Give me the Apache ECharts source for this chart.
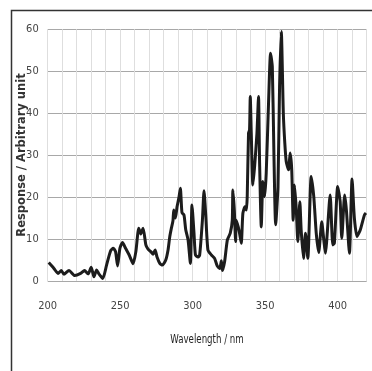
<!DOCTYPE html>
<html><head><meta charset="utf-8">
<script src="https://cdn.jsdelivr.net/npm/echarts@6/dist/echarts.min.js"></script>
<style>html,body{margin:0;padding:0;background:#fff}#c{width:372px;height:371px}</style>
</head><body><div id="c"></div>
<script>
var wavelengths = [200.7,204.3,207.1,209.4,211.2,214.7,218.6,222.7,225.4,227.9,230,231.9,233.7,235.3,238,240.6,243.4,245.2,246.8,248.2,249.8,251.6,253.7,256.2,258.9,260.8,262.8,264.2,265.8,267.7,269.2,271.1,272.7,274.1,275.4,277.3,279.1,281.4,283,284.2,285.3,286.4,286.9,288.1,289.2,290.6,291.5,292.6,294,295.2,296.8,298.4,299.5,300.9,301.9,303.7,304.8,306.7,307.8,309,310.5,312.9,315.1,316.9,318.6,319.8,320.4,322,323.9,325.9,327.3,327.7,328.7,329.6,330,331.4,332.3,333.5,334.6,336,337,337.6,338.5,339.2,339.7,340.4,341.5,342.7,344.3,345.4,346.1,347.3,348.4,349.6,350.7,352.3,353.7,354.9,356,357.2,358.8,359.9,361.1,362.5,363.5,364.5,366.1,367.2,368.3,369.3,370.2,371.4,372.5,373.9,374.8,376.4,377.8,379.4,381.7,383.5,385.2,386.9,389,390.4,391.5,394.8,396.6,397.7,400,401.7,402.8,404.8,406,408.1,409.9,411.5,413.3,415.6,418.4,419.5];
var response = [4.4,3.0,1.8,2.5,1.6,2.5,1.3,1.8,2.5,1.7,3.3,1.0,2.6,1.7,0.6,3.8,7.2,7.8,7.0,3.6,7.8,9.2,7.8,6.2,4.1,7.0,12.6,11.2,12.6,8.6,7.6,7.0,6.4,7.4,5.7,4.2,3.8,5.0,7.4,10.6,12.6,14.4,16.9,15.0,17.7,20.1,22.1,16.3,15.7,12.2,9.8,4.2,18.1,11.4,6.2,5.7,6.2,14.5,21.5,15.7,7.4,6.2,5.4,3.6,3.0,4.8,2.5,4.6,9.8,11.4,14.5,21.7,16.9,9.4,14.5,12.9,11.4,9.0,16.1,17.7,16.9,20.1,35.2,36.0,44.0,35.2,22.9,27.3,35.2,44.0,28.9,12.9,23.7,20.1,25.7,42.4,54.3,51.1,30.5,13.4,22.5,46.3,59.5,40.0,33.0,28.5,26.5,30.5,26.5,14.5,22.9,17.3,9.4,18.9,12.2,5.4,11.4,5.4,24.9,20.1,11.4,6.8,14.1,9.8,6.6,20.5,8.6,9.0,22.5,18.9,10.2,20.5,16.9,6.6,24.3,15.0,10.6,12.2,15.7,16.2];
var xTickLabels = ['200','250','300','350','400'];
var yTitle = 'Response / Arbitrary unit';
var xTitle = 'Wavelength / nm';

var narrow = '"DejaVu Sans Condensed", "Liberation Sans Narrow", "Liberation Sans", sans-serif';
var data = wavelengths.map(function(w,i){return [w, response[i]];});
var chart = echarts.init(document.getElementById('c'), null, {renderer:'canvas'});
chart.setOption({
  animation:false,
  backgroundColor:'#fff',
  grid:{left:47.7, right:5.3, top:29.3, bottom:90, containLabel:false},
  xAxis:{type:'value', min:200, max:420, interval:10,
    axisLine:{show:false}, axisTick:{show:false},
    splitLine:{show:true, lineStyle:{color:'#dedede', width:1}},
    axisLabel:{margin:20, color:'#444', fontFamily:narrow, fontSize:11,
      formatter:function(v){var s=String(Math.round(v)); return xTickLabels.indexOf(s)>=0?s:'';}}
  },
  yAxis:{type:'value', min:0, max:60, interval:10,
    axisLine:{show:false}, axisTick:{show:false},
    splitLine:{show:true, lineStyle:{color:'#a8a8a8', width:1}},
    axisLabel:{margin:9, color:'#444', fontFamily:narrow, fontSize:11}
  },
  series:[{type:'line', data:data, showSymbol:false, smooth:0.2,
    lineStyle:{color:'#1c1c1c', width:3}, z:5}],
  graphic:[
    {type:'rect', left:9, top:8, shape:{width:420, height:420}, style:{fill:'none', stroke:'#333', lineWidth:1.5}, z:-1, silent:true},
    {type:'text', x:21.7, y:155, rotation:Math.PI/2, style:{text:yTitle, fill:'#333', font:'bold 11.5px "DejaVu Sans", sans-serif', align:'center', verticalAlign:'middle'}},
    {type:'text', x:207, y:340, scaleX:0.8, style:{text:xTitle, fill:'#222', font:'12px ' + narrow, align:'center', verticalAlign:'middle'}}
  ]
});
</script></body></html>
